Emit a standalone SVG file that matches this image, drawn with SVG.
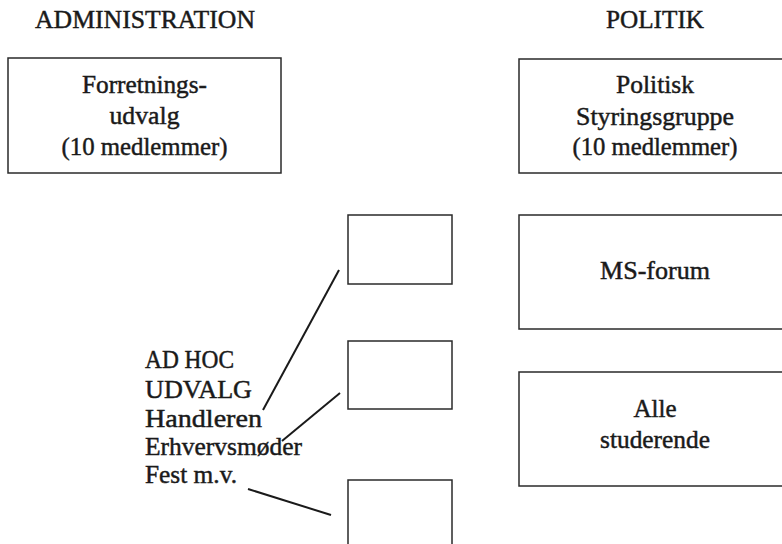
<svg xmlns="http://www.w3.org/2000/svg" width="782" height="544" viewBox="0 0 782 544">
<style>
text{font-family:"Liberation Serif","Times New Roman",serif;font-size:25px;fill:#1a1a1a;stroke:#1a1a1a;stroke-width:0.45}
.c{text-anchor:middle}
.box{fill:none;stroke:#2a2a2a;stroke-width:1.5}
.con{stroke:#1a1a1a;stroke-width:2;fill:none}
</style>
<rect width="782" height="544" fill="#ffffff"/>
<g id="headers">
<text x="35" y="28" textLength="220" lengthAdjust="spacingAndGlyphs">ADMINISTRATION</text>
<text x="655" y="28" class="c" textLength="98" lengthAdjust="spacingAndGlyphs">POLITIK</text>
</g>
<g id="forretningsudvalg">
<rect class="box" x="8" y="58" width="273" height="115"/>
<text x="144.5" y="93" class="c" textLength="125" lengthAdjust="spacingAndGlyphs">Forretnings-</text>
<text x="144.5" y="124" class="c" textLength="70" lengthAdjust="spacingAndGlyphs">udvalg</text>
<text x="144.5" y="155" class="c" textLength="166" lengthAdjust="spacingAndGlyphs">(10 medlemmer)</text>
</g>
<g id="styringsgruppe">
<rect class="box" x="519" y="59" width="272" height="114"/>
<text x="655" y="93" class="c" textLength="78" lengthAdjust="spacingAndGlyphs">Politisk</text>
<text x="655" y="125" class="c" textLength="158" lengthAdjust="spacingAndGlyphs">Styringsgruppe</text>
<text x="655" y="155" class="c" textLength="165" lengthAdjust="spacingAndGlyphs">(10 medlemmer)</text>
</g>
<g id="msforum">
<rect class="box" x="519" y="215" width="272" height="114"/>
<text x="655" y="279" class="c" textLength="110" lengthAdjust="spacingAndGlyphs">MS-forum</text>
</g>
<g id="allestuderende">
<rect class="box" x="519" y="372" width="272" height="114"/>
<text x="655" y="417" class="c" textLength="43" lengthAdjust="spacingAndGlyphs">Alle</text>
<text x="655" y="448" class="c" textLength="110" lengthAdjust="spacingAndGlyphs">studerende</text>
</g>
<g id="adhoc1"><rect class="box" x="348" y="215" width="104" height="69"/></g>
<g id="adhoc2"><rect class="box" x="348" y="341" width="104" height="68"/></g>
<g id="adhoc3"><rect class="box" x="348" y="480" width="104" height="80"/></g>
<g id="adhoclabel">
<text x="145" y="368" textLength="89" lengthAdjust="spacingAndGlyphs">AD HOC</text>
<text x="145" y="398" textLength="107" lengthAdjust="spacingAndGlyphs">UDVALG</text>
<text x="145" y="427" textLength="117" lengthAdjust="spacingAndGlyphs">Handleren</text>
<text x="145" y="455" textLength="157" lengthAdjust="spacingAndGlyphs">Erhvervsmøder</text>
<text x="145" y="483" textLength="92" lengthAdjust="spacingAndGlyphs">Fest m.v.</text>
</g>
<g id="connectors">
<line class="con" x1="263" y1="410" x2="339" y2="270"/>
<line class="con" x1="282" y1="441" x2="340" y2="393"/>
<line class="con" x1="248" y1="489" x2="331" y2="515"/>
</g>
</svg>
